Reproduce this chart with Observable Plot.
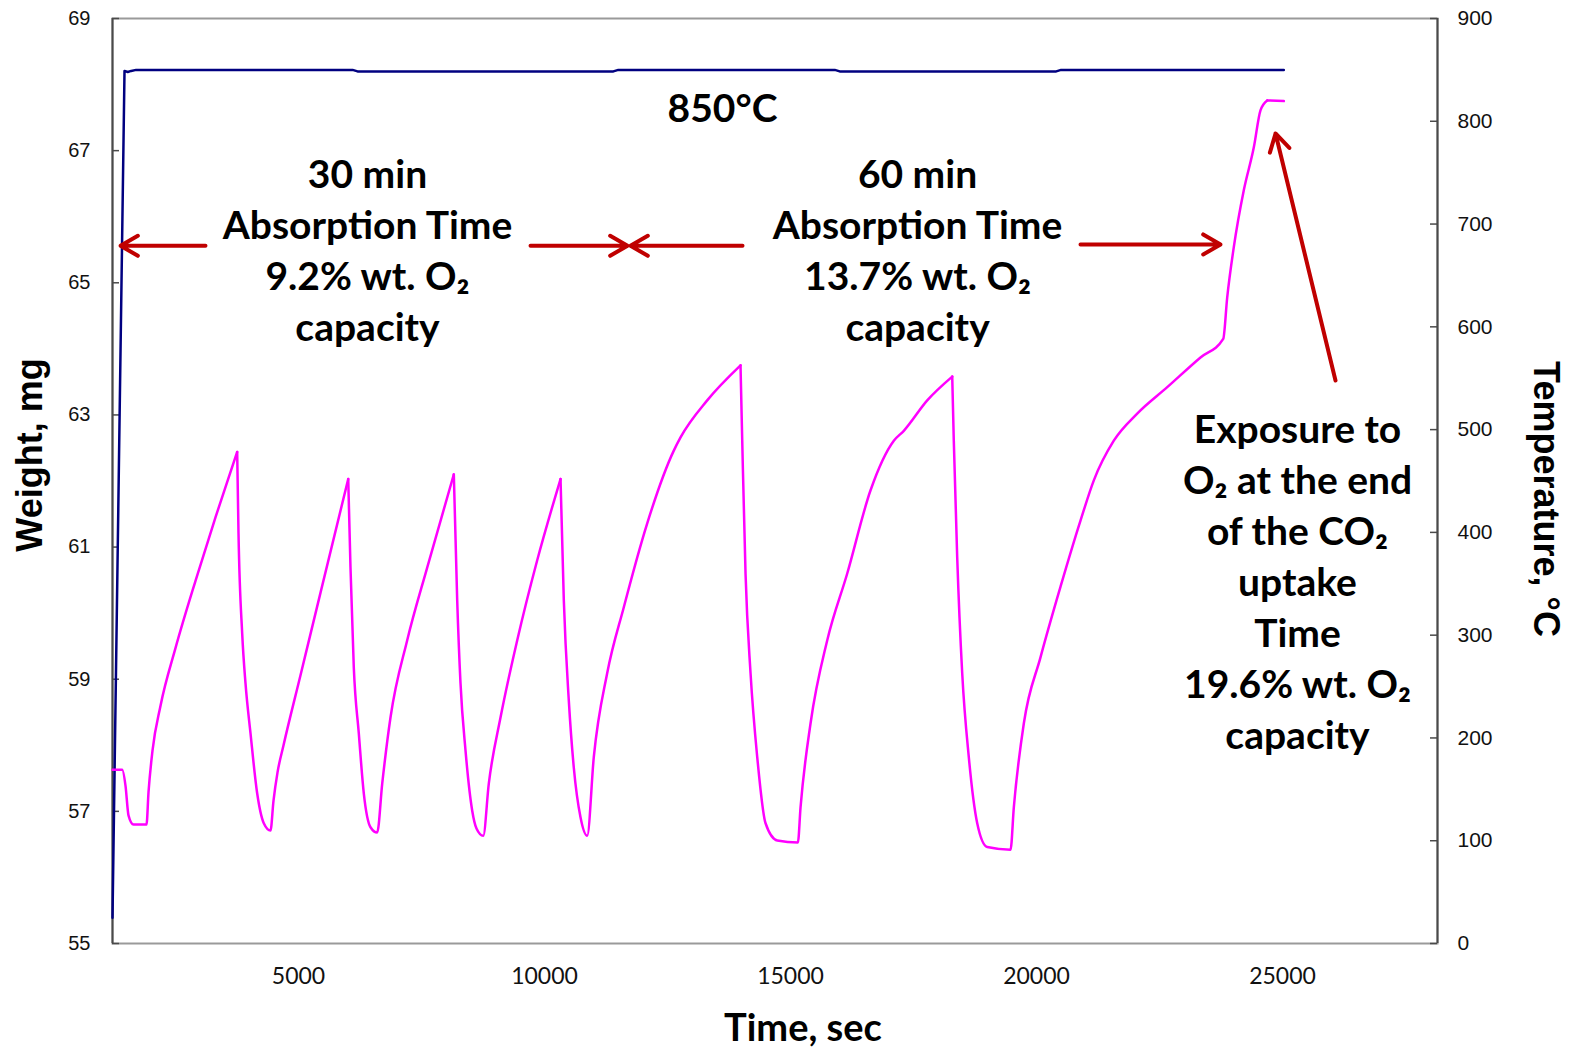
<!DOCTYPE html>
<html>
<head>
<meta charset="utf-8">
<script src="https://cdn.jsdelivr.net/npm/d3@7"></script>
<script src="https://cdn.jsdelivr.net/npm/@observablehq/plot@0.6"></script>
<style>
  html, body { margin: 0; padding: 0; background: #fff; }
  #chart svg { display: block; }
</style>
</head>
<body>
<div id="chart"></div>
<script>
// ---- Data ----
const time = [1220,1417,1484,1545,1647,1911,1952,2033,2196,2500,
  2907,3313,3754,3781,3856,3923,4025,4161,4295,4431,
  4492,4574,4696,5041,5448,6011,6057,6124,6226,6328,
  6464,6600,6702,6870,7210,7616,8157,8226,8293,8395,
  8531,8618,8755,8868,9106,9446,9852,10326,10393,10494,
  10596,10732,10868,11002,11274,11612,12088,12628,12765,13307,
  13984,14019,14086,14188,14324,14493,14731,15150,15204,15407,
  15747,16153,16627,17100,17303,17779,18287,18319,18388,18490,
  18624,18795,18998,19472,19539,19742,20081,20488,20894,21165,
  21571,22047,22657,23333,23795,23876,24010,24213,24417,24552,
  24689,25026];
const weight = [57.63,57.63,57.39,56.94,56.80,56.80,57.29,57.92,58.60,59.47,
  60.49,61.45,62.44,61.21,59.69,58.94,58.18,57.27,56.82,56.71,
  57.16,57.59,58.00,59.06,60.31,62.03,60.69,59.18,58.18,57.27,
  56.76,56.68,57.42,58.42,59.59,60.69,62.10,60.19,58.94,57.92,
  57.01,56.74,56.63,57.42,58.42,59.59,60.80,62.03,60.19,58.68,
  57.66,56.91,56.63,57.82,59.09,60.09,61.36,62.46,62.66,63.22,
  63.75,62.61,60.60,59.09,57.82,56.82,56.56,56.53,57.06,58.33,
  59.59,60.60,61.86,62.61,62.76,63.22,63.58,62.61,60.85,59.09,
  57.82,56.82,56.46,56.42,57.06,58.33,59.33,60.40,61.40,62.01,
  62.61,63.02,63.42,63.87,64.15,64.78,65.54,66.40,67.05,67.61,
  67.76,67.75];

const tempTime = [1220,1464,1530,1600,1700,6100,6200,11400,11500,15900,16000,20400,20500,25026];
const temperature = [25,849,848,849,850,850,848.5,848.5,850,850,848.5,848.5,850,850];

const timeTicks = [5000,10000,15000,20000,25000];
const weightTicks = [55,57,59,61,63,65,67,69];
const tempTicks = [0,100,200,300,400,500,600,700,800,900];

const xDomain = [1220, 28150];
const wDomain = [55, 69];
const tDomain = [0, 900];

// annotations (data coordinates: time, weight)
const noteText = ["850°C",
  "30 min\nAbsorption Time\n9.2% wt. O₂\ncapacity",
  "60 min\nAbsorption Time\n13.7% wt. O₂\ncapacity",
  "Exposure to\nO₂ at the end\nof the CO₂\nuptake\nTime\n19.6% wt. O₂\ncapacity"];
const noteTime = [13618, 6403, 17582, 25305];
const noteWeight = [67.68, 65.52, 65.52, 60.51];

const arrowT1 = [3110, 9716, 14025, 20894, 26077];
const arrowW1 = [65.56, 65.56, 65.56, 65.58, 63.52];
const arrowT2 = [1383, 11687, 11748, 23740, 24858];
const arrowW2 = [65.56, 65.56, 65.56, 65.58, 67.26];

// ---- Build tables ----
const toW = T => wDomain[0] + (T - tDomain[0]) * (wDomain[1] - wDomain[0]) / (tDomain[1] - tDomain[0]);
// split the weight trace at its sharp peaks so the smooth curve keeps the cusps
const weightRows = [];
let seg = 0;
time.forEach((t, i) => {
  weightRows.push({t, w: weight[i], seg});
  const isPeak = i > 0 && i < time.length - 1 && weight[i] > weight[i - 1] && weight[i] > weight[i + 1];
  if (isPeak) { seg++; weightRows.push({t, w: weight[i], seg}); }
});
const tempRows = tempTime.map((t, i) => ({t, w: toW(temperature[i])}));
const notes = noteText.map((text, i) => ({text, t: noteTime[i], w: noteWeight[i]}));
const arrows = arrowT1.map((t1, i) => ({t1, w1: arrowW1[i], t2: arrowT2[i], w2: arrowW2[i]}));

const W = 1569, H = 1048, ML = 112, MR = 132, MT = 18, MB = 105;
const frameW = W - ML - MR;

const chart = Plot.plot({
  width: W, height: H,
  marginLeft: ML, marginRight: MR, marginTop: MT, marginBottom: MB,
  x: {domain: xDomain},
  y: {domain: wDomain},
  style: {background: "white", fontFamily: "Liberation Sans, Arial, sans-serif"},
  marks: [
    Plot.frame({stroke: "#9a9a9a", strokeWidth: 2}),
    Plot.ruleX([xDomain[0]], {stroke: "#4a4a4a", strokeWidth: 2}),
    Plot.ruleX([xDomain[1]], {stroke: "#4a4a4a", strokeWidth: 2}),
    Plot.tickY(weightTicks, {y: d => d, insetRight: frameW - 7, stroke: "#4a4a4a", strokeWidth: 1.5}),
    Plot.tickY(tempTicks, {y: d => toW(d), insetLeft: frameW - 7, stroke: "#4a4a4a", strokeWidth: 1.5}),
    Plot.axisY({ticks: weightTicks, tickSize: 0, tickPadding: 22, label: null,
      fontSize: 20, fontFamily: "Liberation Sans, Arial, sans-serif", fill: "#111"}),
    Plot.axisY({anchor: "right", ticks: tempTicks.map(toW), tickSize: 0, tickPadding: 20, label: null,
      tickFormat: d => String(Math.round((d - wDomain[0]) * (tDomain[1] - tDomain[0]) / (wDomain[1] - wDomain[0]))),
      fontSize: 21, fontFamily: "Liberation Sans, Arial, sans-serif", fill: "#111"}),
    Plot.axisX({ticks: timeTicks, tickSize: 0, tickPadding: 24, label: null, tickFormat: d => String(d),
      fontSize: 23, fontFamily: "Lato, sans-serif", fill: "#111"}),
    Plot.line(tempRows, {x: "t", y: "w", stroke: "#000080", strokeWidth: 2.5}),
    Plot.line(weightRows, {x: "t", y: "w", z: "seg", stroke: "#FF00FF", strokeWidth: 2.5,
      curve: "monotone-x", strokeLinejoin: "round", strokeLinecap: "round"}),
    Plot.arrow(arrows, {x1: "t1", y1: "w1", x2: "t2", y2: "w2", stroke: "#C00000", strokeWidth: 4,
      headLength: 7.5, headAngle: 60}),
    Plot.text(notes, {x: "t", y: "w", text: "text", fontSize: 39, fontWeight: "bold",
      fontFamily: "Lato, sans-serif", lineHeight: 1.31, lineAnchor: "middle", textAnchor: "middle", fill: "#000"}),
    Plot.text(["Weight, mg"], {frameAnchor: "left", text: d => d, rotate: -90, dx: -82, dy: -26,
      fontSize: 36, fontWeight: "bold", fontFamily: "Liberation Sans, Arial, sans-serif", fill: "#000",
      textAnchor: "middle", lineAnchor: "middle"}),
    Plot.text(["Temperature, °C"], {frameAnchor: "right", text: d => d, rotate: 90, dx: 108, dy: 18,
      fontSize: 36, fontWeight: "bold", fontFamily: "Liberation Sans, Arial, sans-serif", fill: "#000",
      textAnchor: "middle", lineAnchor: "middle"}),
    Plot.text(["Time, sec"], {frameAnchor: "bottom", text: d => d, dx: 28, dy: 85,
      fontSize: 38, fontWeight: "bold", fontFamily: "Lato, sans-serif", fill: "#000",
      textAnchor: "middle", lineAnchor: "middle"})
  ]
});
document.getElementById("chart").appendChild(chart);
</script>
</body>
</html>
